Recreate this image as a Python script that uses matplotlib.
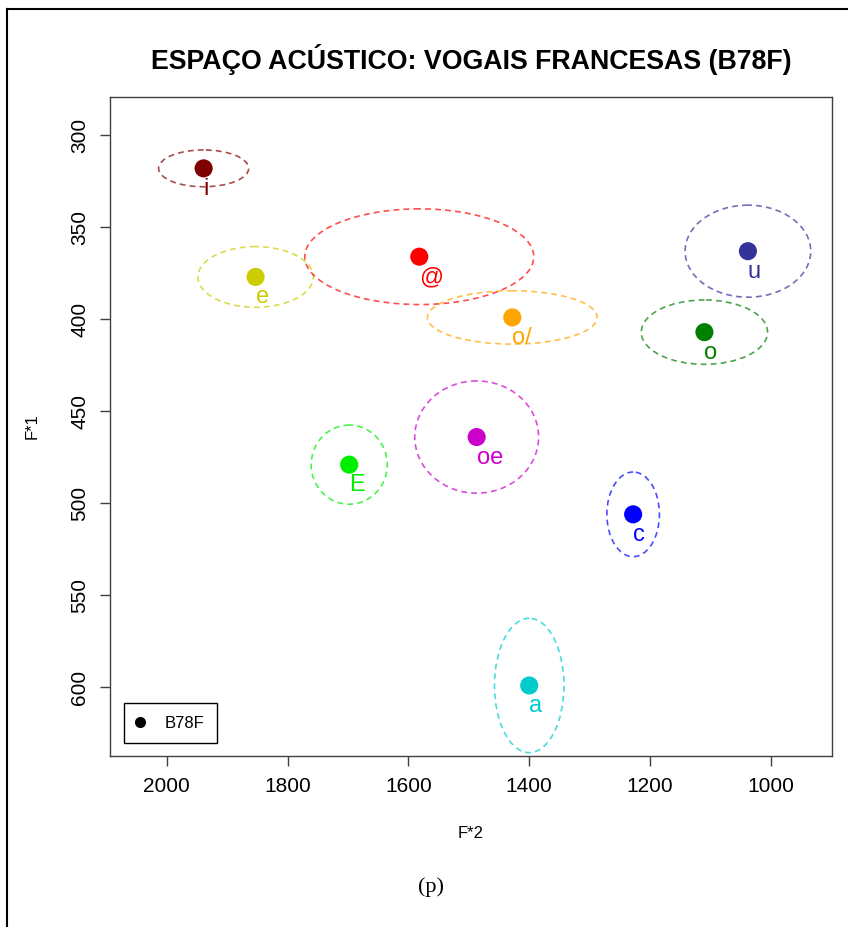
import matplotlib.pyplot as plt
from matplotlib.patches import Ellipse
from matplotlib.lines import Line2D

# vowel means (F2, F1) and ellipse sizes
vowels = ["i", "e", "@", "u", "o/", "o", "E", "oe", "c", "a"]
f2 = [1939, 1853, 1582, 1038, 1428, 1110, 1698, 1487, 1228, 1400]
f1 = [318, 377, 366, 363, 399, 407, 479, 464, 506, 599]
ell_w = [149, 191, 379, 208, 281, 209, 126, 205, 87, 115]
ell_h = [20, 33, 52, 50, 29, 35, 43, 61, 46, 73]
colors = ["#800000", "#CCCC00", "#FF0000", "#333399", "#FFA500",
          "#007F00", "#00EE00", "#CC00CC", "#0000FF", "#00CCCC"]

xticks = [2000, 1800, 1600, 1400, 1200, 1000]
yticks = [300, 350, 400, 450, 500, 550, 600]

plt.rcParams["font.family"] = ["Liberation Sans", "DejaVu Sans"]

fig = plt.figure(figsize=(8.48, 9.27), dpi=100)
ax = fig.add_axes([0.1297, 0.1845, 0.8513, 0.7109])

# dashed ellipses first
for x, y, w, h, c in zip(f2, f1, ell_w, ell_h, colors):
    ax.add_patch(Ellipse((x, y), w, h, fill=False, edgecolor=c, alpha=0.7,
                         lw=1.2, linestyle=(0, (3.5, 2.5))))

ax.scatter(f2, f1, s=170, c=colors, zorder=3, linewidths=0)

# labels just below-right of each point
for v, x, y, c in zip(vowels, f2, f1, colors):
    ax.annotate(v, (x, y), xytext=(0, -26.5), textcoords="offset pixels",
                ha="left", va="baseline", color=c, fontsize=17, zorder=4)

ax.set_xlim(2094, 899)
ax.set_ylim(637.3, 279.2)
ax.set_xticks(xticks)
ax.set_yticks(yticks)

for sp in ax.spines.values():
    sp.set_color("#404040")
    sp.set_linewidth(1.0)
ax.tick_params(colors="#404040", labelcolor="black", length=7, width=1.0,
               labelsize=15, pad=8)
ax.tick_params(axis="y", labelrotation=90)
for lab in ax.get_yticklabels():
    lab.set_va("center")

ax.set_title("ESPAÇO ACÚSTICO: VOGAIS FRANCESAS (B78F)", fontsize=19.3,
             fontweight="bold", pad=20)
ax.set_xlabel("F*2", fontsize=12, labelpad=22)
ax.set_ylabel("F*1", fontsize=12, labelpad=22)

leg_handle = Line2D([], [], marker="o", color="black", linestyle="none",
                    markersize=7)
ax.legend([leg_handle], ["B78F"], loc="lower left",
          bbox_to_anchor=(0.019, 0.019), borderaxespad=0, fontsize=12,
          fancybox=False, edgecolor="black", framealpha=1,
          borderpad=0.75, handlelength=0.5, handletextpad=1.2)

# caption and table-cell frame
fig.text(431 / 848, 1 - 887 / 927, "(p)", family="Liberation Serif",
         fontsize=16, ha="center", va="center")
fig.add_artist(Line2D([7 / 848, 7 / 848], [0, 1 - 9 / 927], color="black",
                      lw=1.5, transform=fig.transFigure))
fig.add_artist(Line2D([7 / 848, 1], [1 - 9 / 927, 1 - 9 / 927],
                      color="black", lw=1.5, transform=fig.transFigure))

fig.savefig("out.png", dpi=100)
